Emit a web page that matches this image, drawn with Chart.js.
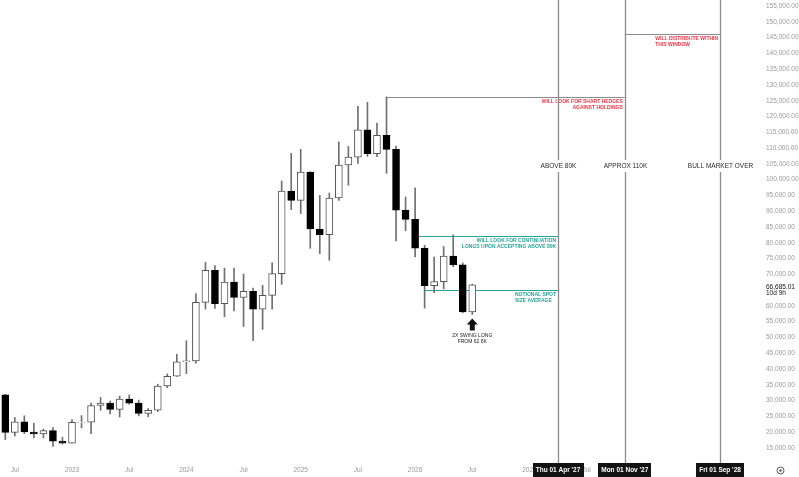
<!DOCTYPE html>
<html>
<head>
<meta charset="utf-8">
<title>BTC monthly</title>
<script src="https://cdn.jsdelivr.net/npm/chart.js@4.4.1/dist/chart.umd.min.js"></script>
<style>
  html, body { margin: 0; padding: 0; background: #ffffff; }
  #wrap { width: 799px; height: 477px; }
</style>
</head>
<body>
<div id="wrap"><canvas id="btcChart" width="799" height="477"></canvas></div>
<script>
// monthly candles, May 2022 -> Jul 2026
const months = [
  '2022-05', '2022-06', '2022-07', '2022-08', '2022-09', '2022-10', '2022-11', '2022-12',
  '2023-01', '2023-02', '2023-03', '2023-04', '2023-05', '2023-06', '2023-07', '2023-08', '2023-09', '2023-10', '2023-11', '2023-12',
  '2024-01', '2024-02', '2024-03', '2024-04', '2024-05', '2024-06', '2024-07', '2024-08', '2024-09', '2024-10', '2024-11', '2024-12',
  '2025-01', '2025-02', '2025-03', '2025-04', '2025-05', '2025-06', '2025-07', '2025-08', '2025-09', '2025-10', '2025-11', '2025-12',
  '2026-01', '2026-02', '2026-03', '2026-04', '2026-05', '2026-06', '2026-07'
];
const opens = [
  37644, 31801, 19942, 23293, 20050, 19423, 20491, 17164,
  16542, 23125, 23142, 28465, 29233, 27210, 30472, 29232, 25941, 26962, 34639, 37723,
  42283, 42580, 61130, 71280, 60672, 67540, 62678, 64620, 58974, 63328, 70215, 96408,
  93429, 102429, 84350, 82550, 94172, 104638, 107135, 115764, 108246, 114048, 109608, 90360,
  87400, 78300, 66400, 67700, 75800, 73000, 58100
];
const highs = [
  39980, 31986, 24668, 25211, 22799, 20988, 21480, 18387,
  23960, 25250, 29184, 31000, 29820, 31432, 31804, 30176, 27488, 35198, 38450, 44700,
  48969, 63913, 73777, 72797, 71979, 71997, 70080, 65660, 66500, 73620, 99588, 108353,
  109588, 102500, 95000, 95758, 111980, 110530, 123218, 124474, 117900, 126200, 110600, 94500,
  97400, 79200, 75500, 78800, 82500, 73600, 66900
];
const lows = [
  26700, 17622, 18781, 19540, 18153, 18190, 15476, 16256,
  16500, 21351, 19549, 26942, 25811, 24800, 28861, 25166, 24901, 26538, 34097, 37629,
  38555, 41884, 59005, 59191, 56552, 58402, 53485, 49000, 52550, 58946, 66835, 90500,
  89256, 78258, 76555, 74434, 93377, 98200, 105127, 107350, 107255, 102000, 80600, 83800,
  75500, 59300, 64200, 65400, 72400, 57800, 57300
];
const closes = [
  31801, 19942, 23293, 20050, 19423, 20491, 17164, 16542,
  23125, 23142, 28465, 29233, 27210, 30472, 29232, 25941, 26962, 34639, 37723, 42283,
  42580, 61130, 71280, 60672, 67540, 62678, 64620, 58974, 63328, 70215, 96408, 93429,
  102429, 84350, 82550, 94172, 104638, 107135, 115764, 108246, 114048, 109608, 90360, 87400,
  78300, 66400, 67700, 75800, 73000, 58100, 66685.01
];

// axis ticks (65,000 sits under the last price label)
const priceTicks = [
  15000, 20000, 25000, 30000, 35000, 40000, 45000, 50000, 55000, 60000, 70000, 75000,
  80000, 85000, 90000, 95000, 100000, 105000, 110000, 115000, 120000, 125000, 130000,
  135000, 140000, 145000, 150000, 155000
];
const timeTicks = ['2022-07', '2023-01', '2023-07', '2024-01', '2024-07', '2025-01', '2025-07',
  '2026-01', '2026-07', '2027-01', '2027-07', '2028-01', '2028-07'];

// drawn levels on the chart
const zoneLevels = [126200, 146200, 82200, 65000];
const zoneStart = ['2025-10', '2027-11', '2026-01', '2026-02'];
const zoneEnd = ['2027-11', '2028-09', '2027-04', '2027-04'];
const zoneText = [
  ['WILL LOOK FOR SHART HEDGES', 'AGAINST HOLDINGS'],
  ['WILL DISTRIBUTE WITHIN', 'THIS WINDOW'],
  ['WILL LOOK FOR CONTINUATION', 'LONGS UPON ACCEPTING ABOVE 80K'],
  ['NOTIONAL SPOT', 'SIZE AVERAGE']
];

// vertical date lines
const eventMonths = ['2027-04', '2027-11', '2028-09'];
const eventTitles = ['ABOVE 80K', 'APPROX 110K', 'BULL MARKET OVER'];
const eventDates = ["Thu 01 Apr '27", "Mon 01 Nov '27", "Fri 01 Sep '28"];

const arrowMonth = '2026-07';
const arrowText = ['2X SWING LONG', 'FROM 62.6K'];
const countdown = '10d 9h';

const FONT = "'Liberation Sans', Arial, sans-serif";
const RED = '#f23645';
const TEAL = '#26a69a';
const LINE_GREY = '#8c8c8c';

// months counted from Jan 2023
function monthIndex(s) {
  const [y, m] = s.split('-').map(Number);
  return (y - 2023) * 12 + (m - 1);
}

const fmtPrice = v => v.toLocaleString('en-US', { minimumFractionDigits: 2, maximumFractionDigits: 2 });

// no extra room around the axes, the plot runs to the canvas edges
function noPadding(scale) {
  scale.paddingTop = 0;
  scale.paddingBottom = 0;
  scale.paddingLeft = 0;
  scale.paddingRight = 0;
}

const xs = months.map(monthIndex);
const isUp = opens.map((o, i) => closes[i] >= o);
const bodies = xs.map((x, i) => ({ x, y: [opens[i], closes[i]] }));
const wicks = xs.map((x, i) => ({ x, y: [lows[i], highs[i]] }));

const notesPlugin = {
  id: 'tvNotes',
  beforeDatasetsDraw(chart) {
    const { ctx, scales: { x, y } } = chart;
    const lineColors = [LINE_GREY, LINE_GREY, TEAL, TEAL];
    ctx.save();
    zoneLevels.forEach((lvl, i) => {
      const py = Math.round(y.getPixelForValue(lvl)) + 0.5;
      ctx.strokeStyle = lineColors[i];
      ctx.lineWidth = 1;
      ctx.beginPath();
      ctx.moveTo(x.getPixelForValue(monthIndex(zoneStart[i])), py);
      ctx.lineTo(x.getPixelForValue(monthIndex(zoneEnd[i])), py);
      ctx.stroke();
    });
    ctx.restore();
  },
  afterDraw(chart) {
    const { ctx, scales: { x, y } } = chart;
    const H = chart.height;
    ctx.save();

    // note texts under the level lines
    const textColors = [RED, RED, TEAL, TEAL];
    const aligns = ['right', 'block', 'right', 'block'];
    ctx.font = 'bold 5px ' + FONT;
    ctx.textBaseline = 'middle';
    zoneLevels.forEach((lvl, i) => {
      const py = y.getPixelForValue(lvl);
      const right = x.getPixelForValue(monthIndex(zoneEnd[i])) - 2;
      const w = Math.max(...zoneText[i].map(t => ctx.measureText(t).width));
      ctx.fillStyle = textColors[i];
      zoneText[i].forEach((t, k) => {
        const ty = py + 4.5 + k * 6;
        if (aligns[i] === 'right') {
          ctx.textAlign = 'right';
          ctx.fillText(t, right, ty);
        } else {
          ctx.textAlign = 'left';
          ctx.fillText(t, right - w, ty);
        }
      });
    });

    // vertical lines with titles
    const labelY = 166;
    eventMonths.forEach((m, i) => {
      const px = Math.round(x.getPixelForValue(monthIndex(m))) + 0.5;
      ctx.strokeStyle = LINE_GREY;
      ctx.lineWidth = 1.3;
      ctx.beginPath();
      ctx.moveTo(px, 0);
      ctx.lineTo(px, H);
      ctx.stroke();

      ctx.font = '6.5px ' + FONT;
      const tw = ctx.measureText(eventTitles[i]).width;
      ctx.fillStyle = '#ffffff';
      ctx.fillRect(px - tw / 2 - 2, labelY - 6, tw + 4, 12);
      ctx.fillStyle = '#2a2a2a';
      ctx.textAlign = 'center';
      ctx.textBaseline = 'middle';
      ctx.fillText(eventTitles[i], px, labelY);
    });

    // arrow under the last candle
    const ai = months.indexOf(arrowMonth);
    const ax = x.getPixelForValue(monthIndex(arrowMonth));
    const tip = y.getPixelForValue(lows[ai]) + 4;
    ctx.fillStyle = '#111111';
    ctx.beginPath();
    ctx.moveTo(ax, tip);
    ctx.lineTo(ax + 5.5, tip + 6);
    ctx.lineTo(ax + 2.5, tip + 6);
    ctx.lineTo(ax + 2.5, tip + 12);
    ctx.lineTo(ax - 2.5, tip + 12);
    ctx.lineTo(ax - 2.5, tip + 6);
    ctx.lineTo(ax - 5.5, tip + 6);
    ctx.closePath();
    ctx.fill();
    ctx.font = '5px ' + FONT;
    ctx.textAlign = 'center';
    ctx.fillStyle = '#222222';
    arrowText.forEach((t, k) => ctx.fillText(t, ax, tip + 17 + k * 6));

    // date boxes on the time axis
    ctx.font = 'bold 6.5px ' + FONT;
    eventMonths.forEach((m, i) => {
      const px = x.getPixelForValue(monthIndex(m));
      const tw = ctx.measureText(eventDates[i]).width;
      ctx.fillStyle = '#131313';
      ctx.fillRect(Math.round(px - tw / 2 - 3), H - 14, Math.round(tw + 6), 14);
      ctx.fillStyle = '#ffffff';
      ctx.textAlign = 'center';
      ctx.fillText(eventDates[i], px, H - 7);
    });

    // last price label
    const last = closes[closes.length - 1];
    const ly = y.getPixelForValue(last);
    const lx = y.left + 8;
    ctx.textAlign = 'left';
    ctx.fillStyle = '#131313';
    ctx.font = '6.5px ' + FONT;
    ctx.fillText(fmtPrice(last), lx, ly + 2);
    ctx.fillText(countdown, lx, ly + 8);

    // settings gear
    ctx.strokeStyle = '#555555';
    ctx.lineWidth = 1;
    ctx.beginPath();
    ctx.arc(780.5, 470.5, 3.5, 0, Math.PI * 2);
    ctx.stroke();
    ctx.fillStyle = '#555555';
    ctx.beginPath();
    ctx.arc(780.5, 470.5, 1.2, 0, Math.PI * 2);
    ctx.fill();

    ctx.restore();
  }
};

new Chart(document.getElementById('btcChart'), {
  type: 'bar',
  data: {
    datasets: [
      {
        label: 'body',
        data: bodies,
        barThickness: 7,
        grouped: false,
        backgroundColor: isUp.map(u => (u ? '#ffffff' : '#000000')),
        borderColor: isUp.map(u => (u ? '#555555' : '#000000')),
        borderWidth: 1,
        borderSkipped: false
      },
      {
        label: 'wick',
        data: wicks,
        barThickness: 1,
        grouped: false,
        backgroundColor: '#707070',
        borderWidth: 0
      }
    ]
  },
  options: {
    responsive: false,
    animation: false,
    devicePixelRatio: 1,
    layout: { padding: 0 },
    plugins: {
      legend: { display: false },
      tooltip: { enabled: false }
    },
    scales: {
      x: {
        type: 'linear',
        min: -7.555,
        max: 71.98,
        offset: false,
        grid: { display: false, drawTicks: false },
        border: { display: false },
        ticks: {
          autoSkip: false,
          maxRotation: 0,
          padding: 8,
          color: '#9a9a9a',
          font: { family: FONT, size: 6.5 },
          callback: v => (v % 12 === 0 ? String(2023 + v / 12) : 'Jul')
        },
        afterBuildTicks(scale) {
          scale.ticks = timeTicks.map(t => ({ value: monthIndex(t) }));
        },
        afterFit(scale) {
          scale.height = 19;
          noPadding(scale);
        }
      },
      y: {
        type: 'linear',
        position: 'right',
        min: 11826,
        max: 156900,
        grid: { display: false, drawTicks: false },
        border: { display: false },
        ticks: {
          autoSkip: false,
          padding: 8,
          color: '#9a9a9a',
          font: { family: FONT, size: 6.5 },
          callback: v => fmtPrice(v)
        },
        afterBuildTicks(scale) {
          scale.ticks = priceTicks.map(v => ({ value: v }));
        },
        afterFit(scale) {
          scale.width = 41;
          noPadding(scale);
        }
      }
    }
  },
  plugins: [notesPlugin]
});
</script>
</body>
</html>
